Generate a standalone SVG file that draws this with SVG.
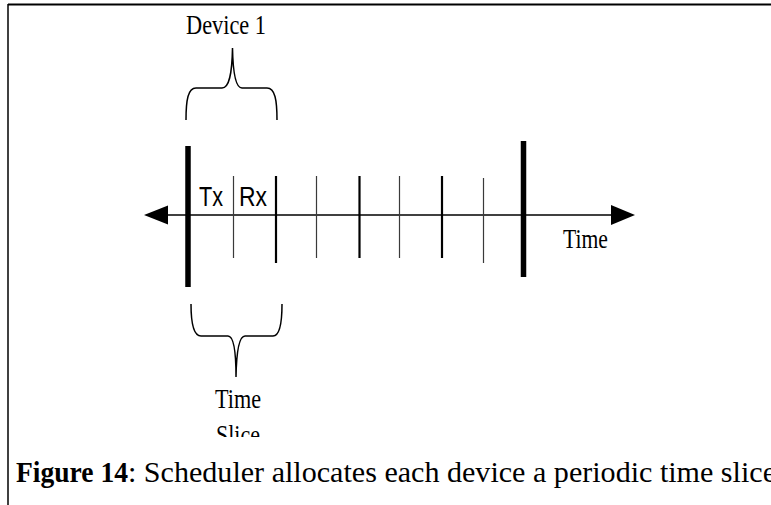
<svg xmlns="http://www.w3.org/2000/svg" width="771" height="505" viewBox="0 0 771 505">
  <style>
    .serif { font-family: "Liberation Serif", "Times New Roman", serif; fill: #000; }
    .sans { font-family: "Liberation Sans", Arial, sans-serif; fill: #000; }
    .brace { fill: none; stroke: #000; stroke-width: 1.5; }
    .thick { stroke: #000; stroke-width: 5.5; }
    .med { stroke: #000; stroke-width: 2.2; }
    .thin { stroke: #3a3a3a; stroke-width: 1.2; }
    .axis { stroke: #000; stroke-width: 1.3; }
  </style>
  <defs>
    <clipPath id="sliceClip">
      <rect x="0" y="0" width="771" height="437"/>
    </clipPath>
  </defs>
  <rect x="0" y="0" width="771" height="505" fill="#fff"/>

  <g id="frame">
    <line x1="8" y1="4.5" x2="771" y2="4.5" stroke="#000" stroke-width="2"/>
    <line x1="8" y1="4" x2="8" y2="505" stroke="#000" stroke-width="1.5"/>
  </g>

  <g id="connectors">
    <line class="axis" x1="166" y1="215" x2="613" y2="215"/>
    <polygon points="144,215 168,205.5 168,224.5" fill="#000"/>
    <polygon points="635,215 611,205 611,225" fill="#000"/>
  </g>

  <g id="ticks">
    <line class="thick" x1="188" y1="146" x2="188" y2="287"/>
    <line class="thin" x1="233.5" y1="176" x2="233.5" y2="258"/>
    <line class="med" x1="276" y1="176" x2="276" y2="263"/>
    <line class="thin" x1="316.5" y1="176" x2="316.5" y2="258"/>
    <line class="med" x1="359.5" y1="176" x2="359.5" y2="258"/>
    <line class="thin" x1="399.5" y1="176" x2="399.5" y2="258"/>
    <line class="med" x1="442" y1="176" x2="442" y2="258"/>
    <line class="thin" x1="483.5" y1="178" x2="483.5" y2="263"/>
    <line class="thick" x1="523.5" y1="141" x2="523.5" y2="277"/>
  </g>

  <g id="device1">
    <path class="brace" d="M186,120 C186,100 188,88 196,88 L222,88 C229,88 232,75 232.5,48 C233,75 236,88 242,88 L267,88 C275,88 277,100 277,120"/>
    <text class="serif" x="186" y="34" font-size="27" textLength="80" lengthAdjust="spacingAndGlyphs">Device 1</text>
  </g>

  <g id="timeslice">
    <path class="brace" d="M191,304 C191,325 194,336 201,336 L228,336 C233,336 236,350 236,377 C236.5,350 239,336 245,336 L273,336 C279,336 282,325 282,304"/>
    <text class="serif" x="215" y="408" font-size="27" textLength="46" lengthAdjust="spacingAndGlyphs">Time</text>
    <text class="serif" x="216" y="444" font-size="27" textLength="44" lengthAdjust="spacingAndGlyphs" clip-path="url(#sliceClip)">Slice</text>
  </g>

  <g id="labels">
    <text class="sans" x="199" y="206" font-size="27" textLength="24" lengthAdjust="spacingAndGlyphs">Tx</text>
    <text class="sans" x="239" y="206" font-size="27" textLength="28" lengthAdjust="spacingAndGlyphs">Rx</text>
    <text class="serif" x="563" y="248" font-size="27" textLength="45" lengthAdjust="spacingAndGlyphs">Time</text>
  </g>

  <g id="caption">
    <text class="serif" x="16" y="482" font-size="29"><tspan font-weight="bold" textLength="112" lengthAdjust="spacingAndGlyphs">Figure 14</tspan><tspan textLength="648" lengthAdjust="spacingAndGlyphs">: Scheduler allocates each device a periodic time slice</tspan></text>
  </g>
</svg>
